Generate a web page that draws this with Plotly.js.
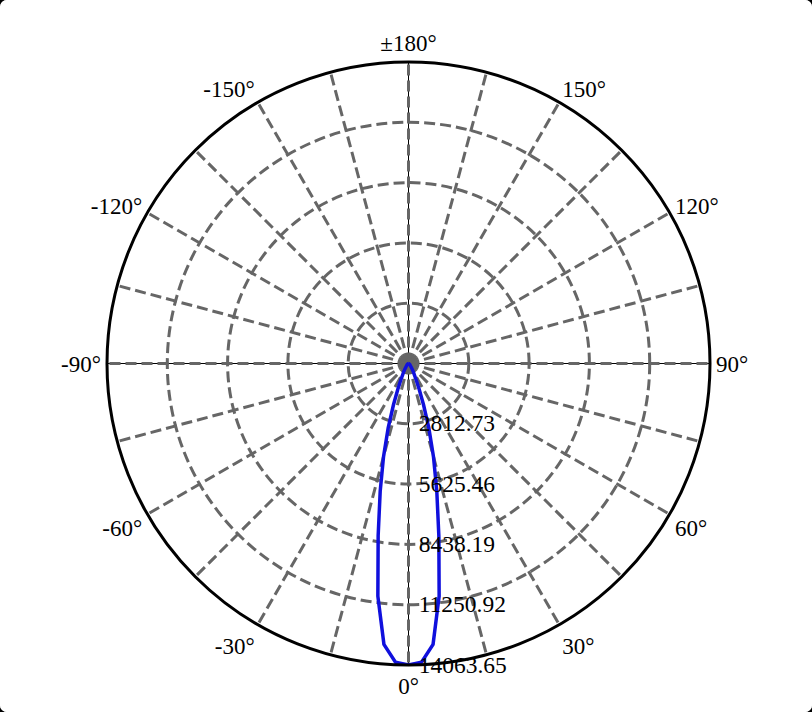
<!DOCTYPE html>
<html>
<head>
<meta charset="utf-8">
<script src="https://cdn.plot.ly/plotly-3.0.1.min.js"></script>
<style>
  html, body { margin: 0; padding: 0; background: #000; }
  #graf { width: 812px; height: 712px; border-radius: 7px; overflow: hidden; background: #fff; }
</style>
</head>
<body>
<div id="graf"></div>
<script>
// Candela readings by angle (deg), 0 at the bottom
const angles = [-180, -90, -80, -70, -60, -50, -40, -35, -30, -25, -22.5, -20, -17.5, -15, -12.5, -10, -7.5, -5, -2.5,
                0, 2.5, 5, 7.5, 10, 12.5, 15, 17.5, 20, 22.5, 25, 30, 35, 40, 50, 60, 70, 80, 90, 180];
const candela = [0, 0, 10, 20, 40, 80, 150, 250, 450, 850, 1300, 2050, 3150, 4500, 6100, 8150, 10950, 13150, 13950,
                 14063.65, 13950, 13150, 10950, 8150, 6100, 4500, 3150, 2050, 1300, 850, 450, 250, 150, 80, 40, 20, 10, 0, 0];

const radialTicks = [2812.73, 5625.46, 8438.19, 11250.92, 14063.65];
const radialLabels = ['2812.73', '5625.46', '8438.19', '11250.92', '14063.65'];

const angleTicks = [0, 15, 30, 45, 60, 75, 90, 105, 120, 135, 150, 165, 180, 195, 210, 225, 240, 255, 270, 285, 300, 315, 330, 345];
const angleLabels = ['0°', '', '30°', '', '60°', '', '90°', '', '120°', '', '150°', '', '±180°', '', '-150°', '', '-120°', '',
                     '-90°', '', '-60°', '', '-30°', ''];

// thin black axis lines at these directions (screen angles), under the dashed grid
const axisDirections = [0, 90, 180, 270];

const serif = 'Liberation Serif';
const rMax = 14063.65;
const fullDomain = { x: [0, 1], y: [0, 1] };

let traces = [];
let layout = {
  width: 812,
  height: 712,
  margin: { l: 107, r: 102, t: 62, b: 47 },
  paper_bgcolor: '#fff',
  showlegend: false,
  font: { family: serif, size: 23, color: '#000' },
};

// underlay subplots: one black radial line each
axisDirections.forEach((dir, i) => {
  let key = i === 0 ? 'polar' : 'polar' + (i + 1);
  traces.push({ type: 'scatterpolar', mode: 'lines', r: [], theta: [], subplot: key, hoverinfo: 'skip' });
  layout[key] = {
    domain: fullDomain,
    bgcolor: 'rgba(0,0,0,0)',
    angularaxis: { visible: false },
    radialaxis: {
      range: [0, rMax],
      angle: dir,
      showline: true,
      linecolor: '#000',
      linewidth: 1,
      showgrid: false,
      showticklabels: false,
      ticks: '',
    },
  };
});

// main subplot with grid, labels and the curve
layout.polar5 = {
  domain: fullDomain,
  bgcolor: 'rgba(0,0,0,0)',
  angularaxis: {
    rotation: -90,
    direction: 'counterclockwise',
    tickmode: 'array',
    tickvals: angleTicks,
    ticktext: angleLabels,
    ticks: '',
    showline: true,
    linecolor: '#000',
    linewidth: 3,
    showgrid: true,
    gridcolor: '#666',
    gridwidth: 3,
    griddash: '11px,5px',
    tickfont: { family: serif, size: 23, color: '#000' },
  },
  radialaxis: {
    range: [0, rMax],
    angle: -90,
    side: 'counterclockwise',
    tickangle: -90,
    tickmode: 'array',
    tickvals: radialTicks,
    ticktext: radialLabels,
    ticks: 'outside',
    ticklen: 5,
    tickcolor: 'rgba(0,0,0,0)',
    showline: false,
    showgrid: true,
    gridcolor: '#666',
    gridwidth: 3,
    griddash: '11px,5px',
    tickfont: { family: serif, size: 23.5, color: '#000' },
  },
};

traces.push({
  type: 'scatterpolar',
  mode: 'lines',
  subplot: 'polar5',
  theta: angles,
  r: candela,
  line: { color: '#1010dd', width: 3.5 },
  hoverinfo: 'skip',
});

let config = { displayModeBar: false, staticPlot: true };

Plotly.newPlot(document.getElementById('graf'), traces, layout, config);
</script>
</body>
</html>
